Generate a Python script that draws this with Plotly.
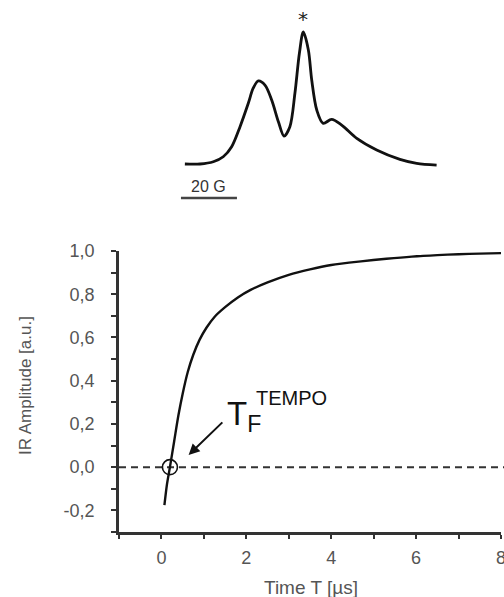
import plotly.graph_objects as go

# --- inversion-recovery curve -------------------------------------------
time_us = [0.07, 0.13, 0.20, 0.30, 0.40, 0.50, 0.62, 0.75, 0.90, 1.06, 1.25,
           1.50, 1.80, 2.10, 2.50, 3.00, 3.50, 4.00, 4.70, 5.30, 5.90, 6.50,
           7.00, 7.50, 8.00]
ir_amplitude = [-0.176, -0.08, 0.0, 0.12, 0.24, 0.34, 0.44, 0.52, 0.59, 0.645,
                0.695, 0.74, 0.785, 0.82, 0.855, 0.89, 0.915, 0.935, 0.952,
                0.964, 0.974, 0.981, 0.985, 0.988, 0.99]

# zero crossing marked on the curve
crossing_t = [0.2]
crossing_amp = [0.0]

# --- EPR spectrum inset (field in G, normalised intensity) -----------------
field_G = [-0.4, 5.0, 9.75, 13.3, 16.3, 19.3, 22.25, 24.0, 25.8, 28.2, 30.6,
           33.0, 35.0, 37.1, 38.9, 40.5, 41.9, 43.7, 44.9, 46.7, 49.0, 52.0,
           55.6, 61.0, 68.1, 76.4, 82.4, 89.5]
epr_signal = [0.0, 0.0, 0.017, 0.055, 0.131, 0.283, 0.460, 0.574, 0.629, 0.598,
              0.485, 0.320, 0.212, 0.283, 0.536, 0.839, 1.0, 0.864, 0.636,
              0.409, 0.308, 0.338, 0.295, 0.194, 0.106, 0.035, 0.005, -0.008]
scalebar_G = [-1.8, 18.2]
scalebar_level = [-0.258, -0.258]
scalebar_label = "20 G"

# --- axis ticks ------------------------------------------------------------
x_tickvals = [0, 2, 4, 6, 8]
x_ticktext = ["0", "2", "4", "6", "8"]
x_minor = [-1, 1, 3, 5, 7]
y_tickvals = [-0.2, 0.0, 0.2, 0.4, 0.6, 0.8, 1.0]
y_ticktext = ["-0,2", "0,0", "0,2", "0,4", "0,6", "0,8", "1,0"]
y_minor = [-0.3, -0.1, 0.1, 0.3, 0.5, 0.7, 0.9]

W, H = 504, 597
M_L, M_R, M_T, M_B = 119, 3, 0, 65
plot_w = W - M_L - M_R
plot_h = H - M_T - M_B
main_top_px = 251          # pixel row of the upper end of the main axes
main_dom = [0, (H - M_B - main_top_px) / plot_h]

# inset mapping: field -> pixel x, signal -> pixel y
px_per_G = 2.8
field0_px = 186
inset_x_range = [(M_L - field0_px) / px_per_G, (W - M_R - field0_px) / px_per_G]
inset_h = 200
base_px, peak_px = 164, 32
r_span = inset_h / (base_px - peak_px)
r0 = -((inset_h - base_px) / inset_h) * r_span
inset_y_range = [r0, r0 + r_span]
inset_dom = [1 - inset_h / plot_h, 1]

AX = "#333333"
TXT = "#555555"
INK = "#111111"
FONT = "Liberation Sans, Arial, sans-serif"


def paper_x(px):
    return (px - M_L) / plot_w


def paper_y(py):
    return (H - M_B - py) / plot_h


fig = go.Figure()

fig.add_trace(go.Scatter(
    x=time_us, y=ir_amplitude, mode="lines",
    line=dict(color=INK, width=2.4, shape="spline", smoothing=0.8),
    xaxis="x", yaxis="y", showlegend=False, hoverinfo="skip"))

fig.add_trace(go.Scatter(
    x=crossing_t, y=crossing_amp, mode="markers",
    marker=dict(symbol="circle-open", size=15, color=INK,
                line=dict(width=1.6, color=INK)),
    xaxis="x", yaxis="y", showlegend=False, hoverinfo="skip"))

fig.add_trace(go.Scatter(
    x=field_G, y=epr_signal, mode="lines",
    line=dict(color=INK, width=2.8, shape="spline", smoothing=0.9),
    xaxis="x2", yaxis="y2", showlegend=False, hoverinfo="skip"))

fig.add_trace(go.Scatter(
    x=scalebar_G, y=scalebar_level, mode="lines",
    line=dict(color="#444444", width=2.4),
    xaxis="x2", yaxis="y2", showlegend=False, hoverinfo="skip"))

# dashed zero line
fig.add_shape(type="line", xref="x domain", yref="y", x0=0, x1=1.01, y0=0, y1=0,
              line=dict(color="#333333", width=2, dash="7px,5px"), layer="below")

# arrow pointing at the crossing
fig.add_annotation(x=0.64, y=0.056, ax=1.47, ay=0.214, xref="x", yref="y",
                   axref="x", ayref="y", text="", showarrow=True,
                   arrowhead=2, arrowsize=1.1, arrowwidth=2, arrowcolor=INK)

# T_F^TEMPO label
fig.add_annotation(x=1.50, y=0.343, xref="x", yref="y", text="T<sub>F</sub>",
                   showarrow=False, xanchor="left", yanchor="top",
                   font=dict(family=FONT, size=33, color=INK))
fig.add_annotation(x=2.19, y=0.38, xref="x", yref="y", text="TEMPO",
                   showarrow=False, xanchor="left", yanchor="top",
                   font=dict(family=FONT, size=20, color=INK))

# inset labels
fig.add_annotation(x=41.9, y=1.10, xref="x2", yref="y2", text="*",
                   showarrow=False,
                   font=dict(family="DejaVu Sans, sans-serif", size=20, color="#222222"))
fig.add_annotation(x=8.2, y=-0.167, xref="x2", yref="y2", text=scalebar_label,
                   showarrow=False, font=dict(family=FONT, size=16, color="#333333"))

# axis titles
fig.add_annotation(x=paper_x(311), y=paper_y(587), xref="paper", yref="paper",
                   xanchor="center", yanchor="middle",
                   text="Time T [µs]", showarrow=False,
                   font=dict(family=FONT, size=19, color=TXT))
fig.add_annotation(x=paper_x(25), y=paper_y(386), xref="paper", yref="paper",
                   xanchor="center", yanchor="middle",
                   text="IR Amplitude [a.u.]", showarrow=False, textangle=-90,
                   font=dict(family=FONT, size=17, color=TXT))

fig.update_layout(
    width=W, height=H,
    margin=dict(l=M_L, r=M_R, t=M_T, b=M_B, autoexpand=False),
    paper_bgcolor="white", plot_bgcolor="white",
    font=dict(family=FONT, color=TXT),
    showlegend=False,
    xaxis=dict(
        domain=[0, 1], range=[-1, 8], showgrid=False, zeroline=False,
        showline=True, linecolor=AX, linewidth=2.5, automargin=False,
        ticks="outside", ticklen=4, tickwidth=2, tickcolor=AX,
        tickmode="array", tickvals=x_tickvals, ticktext=x_ticktext,
        tickfont=dict(family=FONT, size=18, color=TXT),
        ticklabelstandoff=4, ticklabeloverflow="allow",
        minor=dict(ticks="outside", ticklen=4, tickwidth=2, tickcolor=AX,
                   tickmode="array", tickvals=x_minor),
        anchor="y",
    ),
    yaxis=dict(
        domain=main_dom, range=[-0.3, 1.0], showgrid=False, zeroline=False,
        showline=True, linecolor=AX, linewidth=2.5, automargin=False,
        ticks="outside", ticklen=5, tickwidth=2, tickcolor=AX,
        tickmode="array", tickvals=y_tickvals, ticktext=y_ticktext,
        tickfont=dict(family=FONT, size=18, color=TXT),
        ticklabelstandoff=13,
        minor=dict(ticks="outside", ticklen=5, tickwidth=2, tickcolor=AX,
                   tickmode="array", tickvals=y_minor),
        anchor="x",
    ),
    xaxis2=dict(domain=[0, 1], range=inset_x_range, visible=False, anchor="y2"),
    yaxis2=dict(domain=inset_dom, range=inset_y_range, visible=False, anchor="x2"),
)

fig.write_html("out.html")
